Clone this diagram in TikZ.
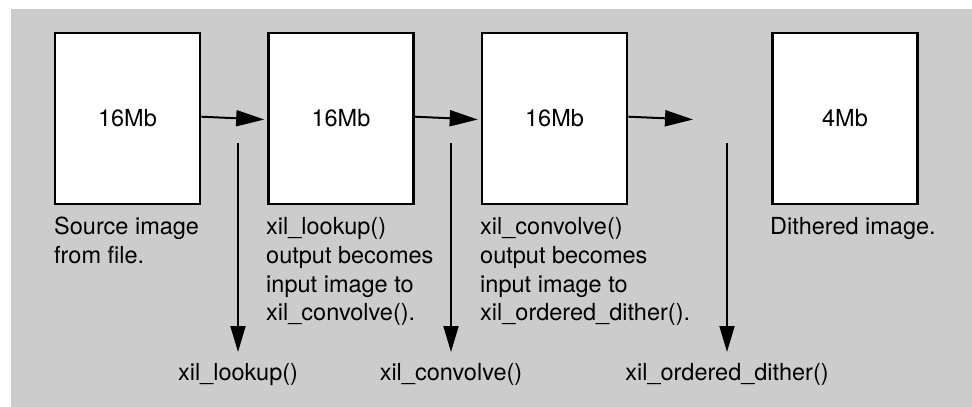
\documentclass[tikz,border=0pt]{standalone}
\usepackage{fontspec}
\setmainfont{TeX Gyre Heros}
\usetikzlibrary{arrows.meta,calc}
\definecolor{panelgray}{HTML}{CCCCCC}
\begin{document}
\begin{tikzpicture}[x=1pt,y=-1pt,
  txt/.style={font=\fontsize{23.5}{28.8}\selectfont},
  membox/.style={txt,draw=black,line width=2.6pt,fill=white,
    minimum width=145pt,minimum height=171pt,inner sep=0pt},
  caption/.style={txt,anchor=base west,align=left,inner sep=0pt},
  oplabel/.style={txt,anchor=base,inner sep=0pt},
  flow/.style={line width=2pt,-{Triangle[length=28pt,width=16pt]}},
  opflow/.style={line width=2pt,-{Triangle[length=26pt,width=15pt]}}]

% page and grey panel
\useasboundingbox (0,0) rectangle (972,407);
\fill[panelgray] (11,9) rectangle (972,407);

% image buffers
\node[membox] (b1) at (127.5,118.5) {16Mb};
\node[membox] (b2) at (341,118.5) {16Mb};
\node[membox] (b3) at (554.5,118.5) {16Mb};
\node[membox] (b4) at (845,118.5) {4Mb};

% captions under the buffers (anchored on the baseline of their last line)
\node[caption] (c1) at (54,263.3) {Source image\\from file.};
\node[caption] (c2) at (266,320.9) {xil\_lookup()\\output becomes\\input image to\\xil\_convolve().};
\node[caption] (c3) at (480,320.9) {xil\_convolve()\\output becomes\\input image to\\xil\_ordered\_dither().};
\node[caption] (c4) at (770,234.5) {Dithered image.};

% data flow between buffers
\coordinate (gap) at (693,119.5);
\draw[flow] ($(b1.east)+(0,-1.8)$) -- ($(b2.west)+(-3,1)$);
\draw[flow] ($(b2.east)+(0,-1.8)$) -- ($(b3.west)+(-3,1)$);
\draw[flow] ($(b3.east)+(0,-1.8)$) -- (gap);

% operations applied
\coordinate (s1) at (238,143);  \coordinate (e1) at (238,352);
\coordinate (s2) at (451,143);  \coordinate (e2) at (451,352);
\coordinate (s3) at (727,143);  \coordinate (e3) at (727,352);
\draw[opflow] (s1) -- (e1);
\draw[opflow] (s2) -- (e2);
\draw[opflow] (s3) -- (e3);

\node[oplabel] (o1) at (238,380) {xil\_lookup()};
\node[oplabel] (o2) at (451,380) {xil\_convolve()};
\node[oplabel] (o3) at (727,380) {xil\_ordered\_dither()};
\end{tikzpicture}
\end{document}
